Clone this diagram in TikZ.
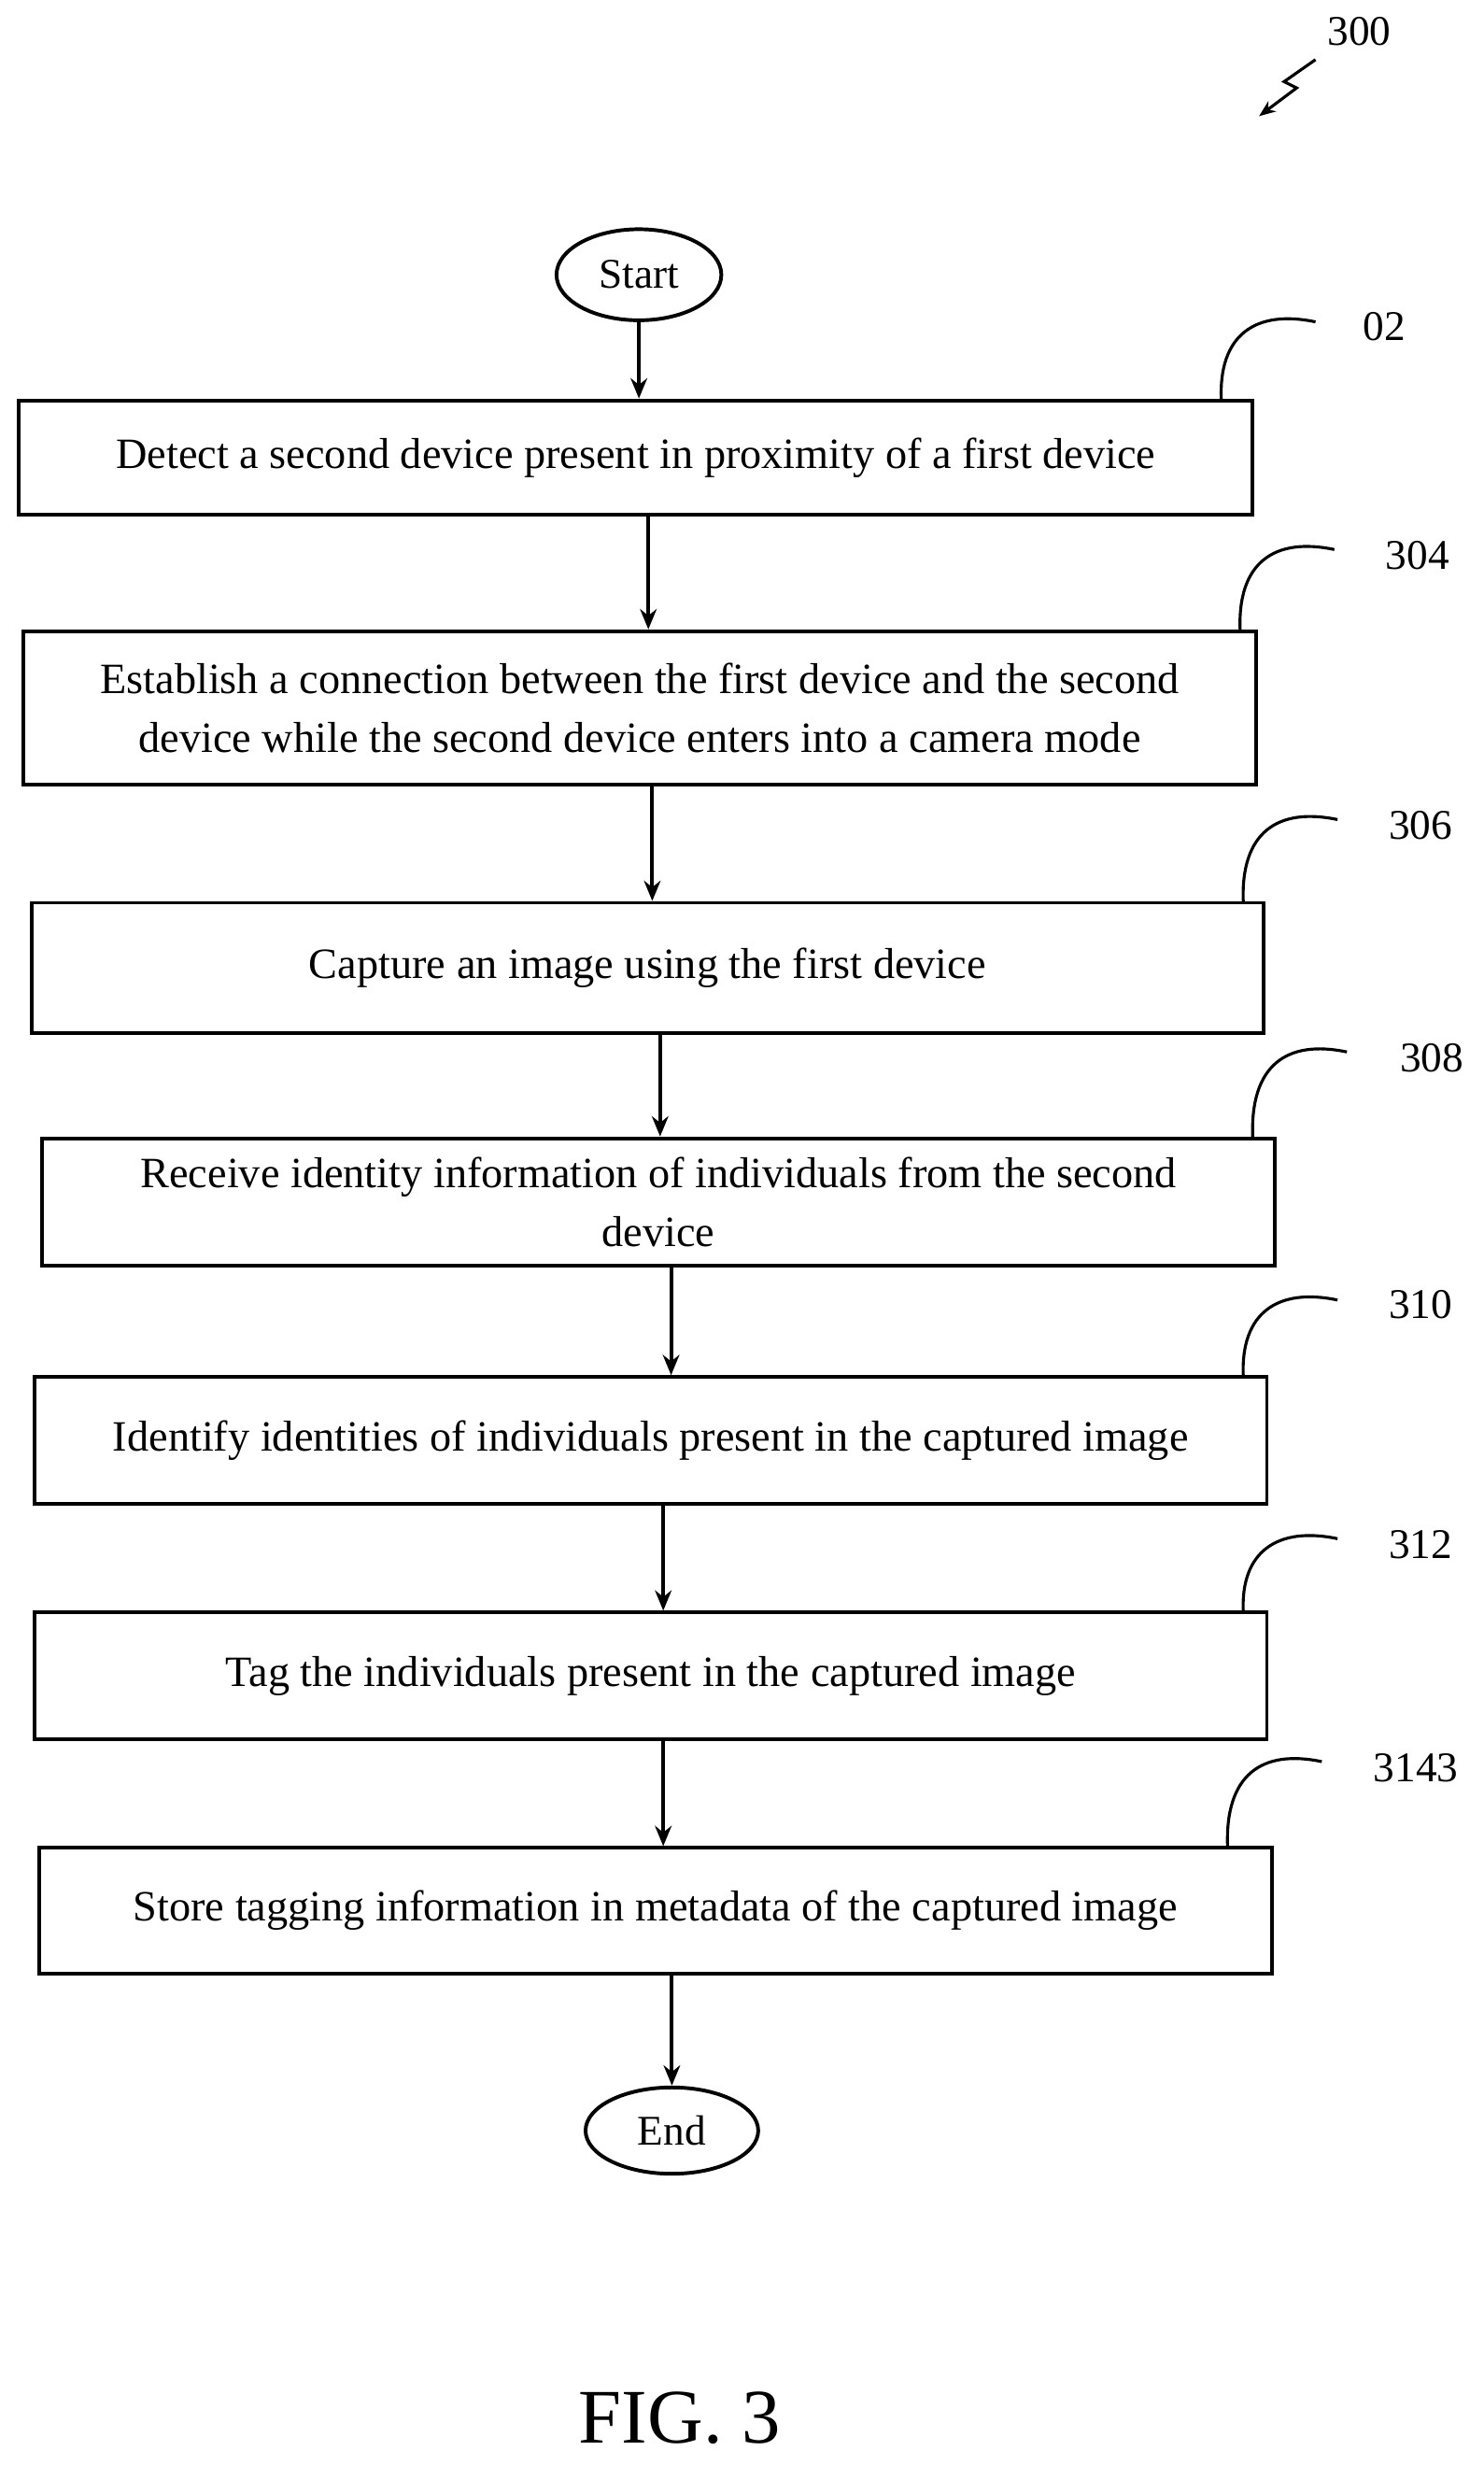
\documentclass[tikz,border=0pt]{standalone}
\usepackage{fontspec}
\setmainfont{Liberation Serif}
\usetikzlibrary{arrows.meta,shapes.geometric}
\begin{document}
\begin{tikzpicture}[x=0.03cm, y=-0.03cm, thick,
    step box/.style={draw, line width=2pt, inner sep=0pt, align=center,
                     font=\fontsize{23.5}{32}\selectfont},
    term node/.style={ellipse, draw, line width=2pt, font=\fontsize{23}{26}\selectfont},
    ref label/.style={font=\fontsize{23}{26}\selectfont},
    flow/.style={-{Stealth[length=11pt,width=9pt]}, line width=2pt},
    hook/.style={line width=1.6pt}]
	\useasboundingbox (0,0) rectangle (945,1570);

	\node[term node, minimum width=105*0.03cm, minimum height=58*0.03cm] (start) at (407,175) {Start};
	\node[step box, minimum width=786*0.03cm, minimum height=73*0.03cm] (s1) at (405,291.5) {Detect a second device present in proximity of a first device};
	\node[step box, minimum width=785*0.03cm, minimum height=98*0.03cm] (s2) at (407.5,451) {Establish a connection between the first device and the second\\device while the second device enters into a camera mode};
	\node[step box, minimum width=785*0.03cm, minimum height=83*0.03cm] (s3) at (412.5,616.5) {Capture an image using the first device};
	\node[step box, minimum width=785*0.03cm, minimum height=81*0.03cm] (s4) at (419.5,765.5) {Receive identity information of individuals from the second\\device};
	\node[step box, minimum width=785*0.03cm, minimum height=81*0.03cm] (s5) at (414.5,917.5) {Identify identities of individuals present in the captured image};
	\node[step box, minimum width=785*0.03cm, minimum height=81*0.03cm] (s6) at (414.5,1067.5) {Tag the individuals present in the captured image};
	\node[step box, minimum width=785*0.03cm, minimum height=80*0.03cm] (s7) at (417.5,1217) {Store tagging information in metadata of the captured image};
	\node[term node, minimum width=110*0.03cm, minimum height=55*0.03cm] (end) at (428,1357) {End};

	\node[ref label] (r300) at (866,20) {300};
	\node[ref label] (r1) at (882,208) {02};
	\node[ref label] (r2) at (903,354) {304};
	\node[ref label] (r3) at (905,526) {306};
	\node[ref label] (r4) at (912,674) {308};
	\node[ref label] (r5) at (905,831) {310};
	\node[ref label] (r6) at (905,984) {312};
	\node[ref label] (r7) at (902,1126) {3143};

	\node[ref label, font=\fontsize{42}{46}\selectfont] (fig) at (433,1540) {FIG. 3};

	% flow arrows
	\draw[flow] (start.south) -- (start.south |- s1.north);
	\foreach \a/\b in {s1/s2, s2/s3, s3/s4, s4/s5, s5/s6, s6/s7}
	  \draw[flow] ([xshift=8*0.03cm]\a.south) -- ([xshift=8*0.03cm]\a.south |- \b.north);
	\draw[flow] (s7.south -| end.north) -- (end.north);

	% reference hooks
	\foreach \x/\yb/\xe/\ye in {778/255/838/205, 790/402/850/350, 792/575/852/522, 798/725/858/670, 792/877/852/828, 792/1027/852/980, 782/1177/842/1122}
	  \draw[hook] (\x,\yb) .. controls (\x-2,\ye+8) and (\x+22,\ye-8) .. (\xe,\ye);

	% 300 marker
	\draw[hook, -{Stealth[length=9pt,width=7pt,open]}] (838,38) -- (818,52) -- (826,56) -- (802,74);
\end{tikzpicture}
\end{document}
